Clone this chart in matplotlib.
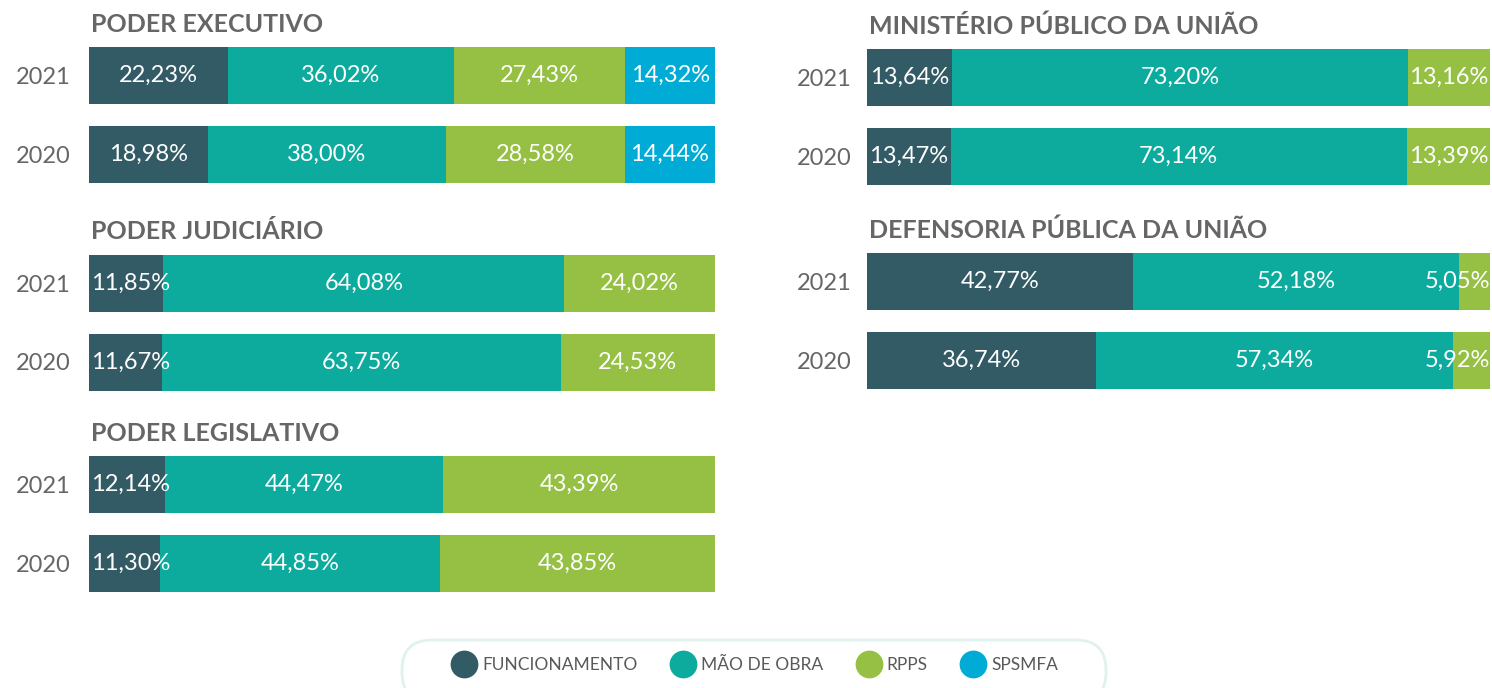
"""Stacked 100% bars: composição das despesas por poder/órgão, 2021 x 2020."""

import matplotlib.pyplot as plt
from matplotlib.lines import Line2D
from matplotlib.patches import FancyBboxPatch

plt.rcParams["font.family"] = ["Lato", "DejaVu Sans"]

# Data (percent shares)
years = ["2021", "2020"]
categories = ["FUNCIONAMENTO", "MÃO DE OBRA", "RPPS", "SPSMFA"]
colors = ["#335b66", "#0dab9d", "#95c043", "#00acd6"]

executivo = [[22.23, 36.02, 27.43, 14.32], [18.98, 38.00, 28.58, 14.44]]
judiciario = [[11.85, 64.08, 24.02], [11.67, 63.75, 24.53]]
legislativo = [[12.14, 44.47, 43.39], [11.30, 44.85, 43.85]]
mpu = [[13.64, 73.20, 13.16], [13.47, 73.14, 13.39]]
dpu = [[42.77, 52.18, 5.05], [36.74, 57.34, 5.92]]

# panel layout in pixels: (title, data, left, right, center of 2021 bar, year pad)
panels = [
    ("PODER EXECUTIVO", executivo, 89, 715, 75.5, 13),
    ("PODER JUDICIÁRIO", judiciario, 89, 715, 283, 13),
    ("PODER LEGISLATIVO", legislativo, 89, 715, 484.5, 13),
    ("MINISTÉRIO PÚBLICO DA UNIÃO", mpu, 867, 1490, 77.5, 11),
    ("DEFENSORIA PÚBLICA DA UNIÃO", dpu, 867, 1490, 281.5, 11),
]

W, H = 1492, 688
STEP = 79
BAR_H = 57 / STEP
TITLE_COLOR = "#666666"

fig = plt.figure(figsize=(W / 100, H / 100), dpi=100)

labels = []
for title, data, left, right, c0, pad in panels:
    top = c0 - STEP / 2
    ax = fig.add_axes([left / W, 1 - (top + 2 * STEP) / H, (right - left) / W, 2 * STEP / H])
    for row, vals in enumerate(data):
        start = 0
        for i, v in enumerate(vals):
            ax.barh(row, v, left=start, height=BAR_H, color=colors[i], linewidth=0)
            t = ax.text(start + v / 2, row, f"{v:.2f}%".replace(".", ","),
                        ha="center", va="center", color="white", fontsize=17)
            labels.append((ax, t))
            start += v
    ax.set_xlim(0, 100)
    ax.set_ylim(1.5, -0.5)
    ax.set_yticks([0, 1])
    ax.set_yticklabels(years, fontsize=17, color=TITLE_COLOR)
    ax.tick_params(axis="y", length=0, pad=pad)
    ax.set_xticks([])
    for s in ax.spines.values():
        s.set_visible(False)
    fig.text((left + 2) / W, 1 - (c0 - 51) / H, title, fontsize=18, fontweight="bold",
             color=TITLE_COLOR, ha="left", va="center")

# keep labels inside the plotting area, like the original
fig.canvas.draw()
renderer = fig.canvas.get_renderer()
for ax, t in labels:
    bb = t.get_window_extent(renderer).transformed(ax.transData.inverted())
    x = t.get_position()[0]
    if bb.x0 < 0.3:
        t.set_x(x + 0.3 - bb.x0)
    elif bb.x1 > 100:
        t.set_x(x - (bb.x1 - 100))

# legend
box = FancyBboxPatch((402 / W, 1 - 702 / H), 704 / W, 62 / H,
                     boxstyle="round,pad=0,rounding_size=0.02", transform=fig.transFigure,
                     facecolor="white", edgecolor="#e0f2ee", linewidth=2, mutation_aspect=W / H)
fig.patches.append(box)
handles = [Line2D([], [], marker="o", linestyle="none", markersize=20,
                  markerfacecolor=c, markeredgewidth=0) for c in colors]
fig.legend(handles, categories, loc="center", bbox_to_anchor=(756 / W, 1 - 665 / H),
           ncol=4, frameon=False, fontsize=12.5, labelcolor="#595959",
           handletextpad=0.45, columnspacing=2.0, handlelength=1.2)

fig.savefig("out.png", dpi=100)
